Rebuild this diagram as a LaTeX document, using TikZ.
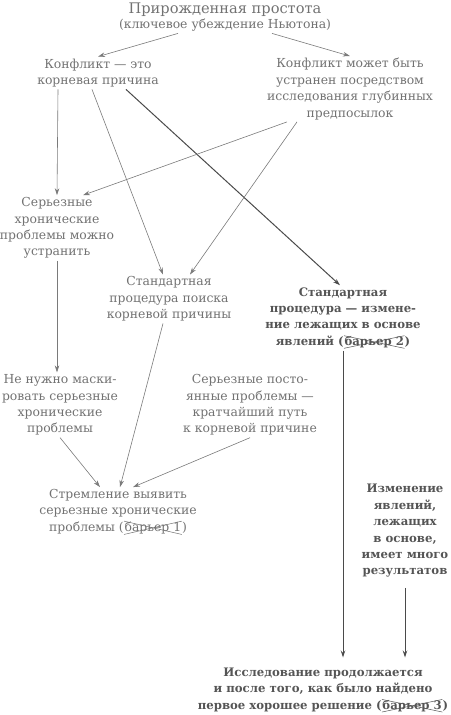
\documentclass[tikz,border=0pt]{standalone}
\usepackage{fontspec}
\setmainfont{DejaVu Serif}
\usetikzlibrary{arrows.meta, positioning, shapes.misc}
\definecolor{newtontext}{HTML}{727272}
\definecolor{newtonbold}{HTML}{555555}
\definecolor{newtonline}{HTML}{7A7A7A}
\definecolor{newtondark}{HTML}{4A4A4A}
% crossed-out barrier label
\newcommand{\barrier}[1]{\tikz[baseline=(bx.base)]\node[cross out, draw, inner sep=0.3pt, line width=0.5pt] (bx) {барьер~#1};}

\begin{document}
\begin{tikzpicture}[x=1pt, y=-1pt,
    txt/.style={font=\fontsize{12.4}{16.4}\selectfont, text=newtontext, align=center, inner sep=2pt},
    boldtxt/.style={txt, font=\fontsize{11.7}{16.4}\selectfont\bfseries, text=newtonbold},
    arr/.style={draw=newtonline, line width=0.6pt, -{Stealth[length=7pt, width=4.5pt]}},
    darr/.style={arr, draw=newtondark, line width=1pt}]
  \useasboundingbox (0,0) rectangle (450,715);

  % top belief
  \node[txt, font=\fontsize{14.6}{15}\selectfont] (root) at (225,17)
    {Прирожденная простота\\{\fontsize{12.4}{13}\selectfont(ключевое убеждение Ньютона)}};

  \node[txt] (conflict) at (98,73) {Конфликт — это\\корневая причина};
  \node[txt] (removable) at (350,89) {Конфликт может быть\\устранен посредством\\исследования глубинных\\предпосылок};
  \node[txt] (chronic) at (57,228) {Серьезные\\хронические\\проблемы можно\\устранить};
  \node[txt] (rootproc) at (169,299) {Стандартная\\процедура поиска\\корневой причины};
  \node[boldtxt] (change) at (343,318) {Стандартная\\процедура — измене-\\ние лежащих в основе\\явлений (\barrier{2})};
  \node[txt] (nomask) at (60,405) {Не нужно маски-\\ровать серьезные\\хронические\\проблемы};
  \node[txt] (shortest) at (250,405) {Серьезные посто-\\янные проблемы —\\кратчайший путь\\к корневой причине};
  \node[txt] (strive) at (118,512) {Стремление выявить\\серьезные хронические\\проблемы (\barrier{1})};
  \node[boldtxt] (many) at (405,531) {Изменение\\явлений,\\лежащих\\в основе,\\имеет много\\результатов};
  \node[boldtxt] (goon) at (323,690) {Исследование продолжается\\и после того, как было найдено\\первое хорошее решение (\barrier{3})};

  % connectors
  \draw[arr] ([xshift=-47pt]root.south) -- (conflict.north);
  \draw[arr] ([xshift=47pt]root.south) -- (removable.north);
  \draw[arr] ([xshift=-40pt]conflict.south) -- (chronic.north);
  \draw[arr] ([xshift=-6pt]conflict.south) -- ([xshift=-6pt]rootproc.north);
  \draw[darr] ([xshift=28pt]conflict.south) -- ([xshift=-3pt]change.north);
  \draw[arr] ([xshift=-63pt]removable.south) -- ([xshift=26pt]chronic.north);
  \draw[arr] ([xshift=-53pt]removable.south) -- ([xshift=21pt]rootproc.north);
  \draw[arr] (chronic.south) -- (chronic.south |- nomask.north);
  \draw[arr] ([xshift=-6pt]rootproc.south) -- ([xshift=2pt]strive.north);
  \draw[arr] (nomask.south) -- ([xshift=-18pt]strive.north);
  \draw[arr] (shortest.south) -- ([xshift=15pt]strive.north);
  \draw[darr, shorten >=8pt] (change.south) -- (change.south |- goon.north);
  \draw[darr, shorten >=8pt, shorten <=8pt] (many.south) -- (many.south |- goon.north);
\end{tikzpicture}
\end{document}
